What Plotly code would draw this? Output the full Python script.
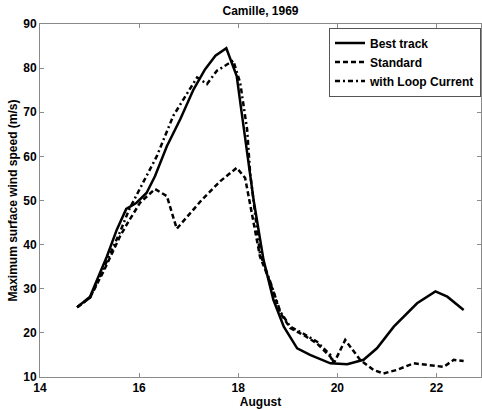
import plotly.graph_objects as go

# Best track
best_day = [14.75, 15.01, 15.11, 15.35, 15.55, 15.74, 15.95, 16.15, 16.32, 16.56, 16.83, 17.10, 17.33,
            17.54, 17.76, 17.97, 18.07, 18.18, 18.31, 18.51, 18.71, 18.92, 19.19, 19.45, 19.86, 20.2,
            20.53, 20.80, 21.14, 21.61, 21.98, 22.22, 22.55]
best_wind = [25.8, 28.2, 30.9, 37.3, 43.4, 48.1, 49.5, 51.7, 55.5, 62.3, 68.4, 75.2, 79.7,
             82.8, 84.5, 78.2, 69.9, 60.8, 50.2, 36.6, 27.5, 21.4, 16.5, 15.0, 13.1, 12.9,
             13.9, 16.5, 21.4, 26.7, 29.4, 28.2, 25.2]

# Standard
std_day = [14.75, 15.01, 15.28, 15.62, 15.80, 16.02, 16.32, 16.56, 16.76, 17.27, 17.64, 17.97, 18.14,
           18.44, 18.65, 18.85, 19.05, 19.32, 19.59, 19.86, 19.93, 20.16, 20.46, 20.73, 20.93, 21.2,
           21.54, 21.88, 22.15, 22.35, 22.55]
std_wind = [25.8, 28.0, 33.9, 42.0, 45.5, 49.5, 52.6, 51.0, 43.6, 50.2, 54.4, 57.4, 55.1,
            37.3, 31.3, 24.5, 21.1, 19.5, 17.6, 14.6, 13.1, 18.4, 13.9, 11.6, 10.8, 11.6,
            13.1, 12.7, 12.3, 13.9, 13.6]

# with Loop Current
loop_day = [14.75, 15.01, 15.28, 15.62, 15.80, 16.05, 16.36, 16.69, 17.03, 17.17, 17.37, 17.57, 17.90,
            18.04, 18.18, 18.24, 18.44, 18.65, 18.85, 19.05, 19.32, 19.59, 19.86, 19.93]
loop_wind = [25.8, 28.0, 34.5, 43.0, 48.0, 53.5, 60.1, 69.2, 75.2, 77.9, 76.4, 79.4, 81.7,
             76.7, 66.1, 56.3, 38.0, 31.5, 24.8, 21.4, 19.8, 18.0, 15.0, 13.2]

x_ticks = [14, 16, 18, 20, 22]
y_ticks = [10, 20, 30, 40, 50, 60, 70, 80, 90]

FONT = "Liberation Sans, Arial, sans-serif"
TXT = dict(family=FONT, size=12, color="black", weight="bold")

fig = go.Figure()
fig.add_trace(go.Scatter(x=best_day, y=best_wind, mode="lines", name="Best track",
                         line=dict(color="black", width=2.5, dash="solid")))
fig.add_trace(go.Scatter(x=std_day, y=std_wind, mode="lines", name="Standard",
                         line=dict(color="black", width=2.5, dash="5px,3px")))
fig.add_trace(go.Scatter(x=loop_day, y=loop_wind, mode="lines", name="with Loop Current",
                         line=dict(color="black", width=2.5, dash="5px,3px,2px,3px")))

axis_common = dict(showgrid=False, zeroline=False, showline=True, linecolor="#8a8a8a", linewidth=1,
                   mirror="ticks", ticks="inside", ticklen=4, tickcolor="#8a8a8a",
                   tickfont=TXT)

fig.update_layout(
    width=482, height=410,
    margin=dict(l=40, r=1, t=24, b=33),
    paper_bgcolor="white", plot_bgcolor="white",
    title=dict(text="Camille, 1969", x=0.5405, xanchor="center", y=0.973, yanchor="middle",
               font=TXT),
    xaxis=dict(range=[14, 22.9], tickvals=x_ticks, ticktext=[str(v) for v in x_ticks],
               title=dict(text="August", standoff=1, font=TXT),
               **axis_common),
    yaxis=dict(range=[10, 90], tickvals=y_ticks, ticktext=[str(v) for v in y_ticks],
               title=dict(text="Maximum surface wind speed (m/s)", standoff=3, font=TXT),
               **axis_common),
    legend=dict(x=1, xanchor="right", y=0.99, yanchor="top",
                bgcolor="white", bordercolor="#555555", borderwidth=1,
                font=TXT, tracegroupgap=0, itemwidth=30),
    showlegend=True,
)

fig.write_html("out.html")
